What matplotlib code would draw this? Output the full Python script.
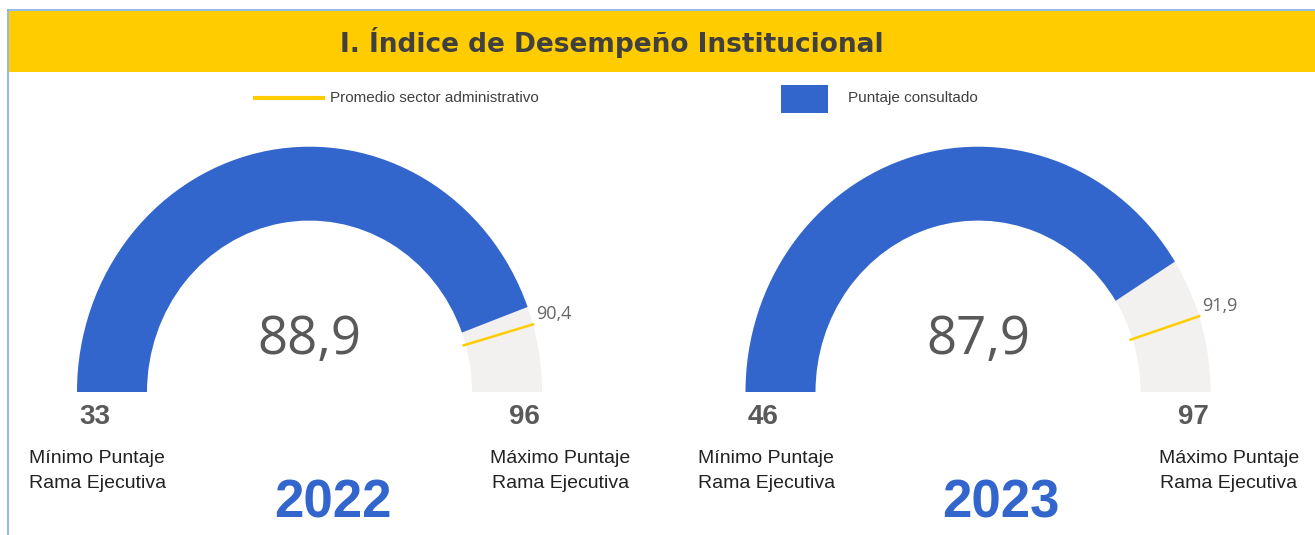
"""Gauge panel: Índice de Desempeño Institucional 2022 vs 2023."""

import math

import matplotlib

matplotlib.use("Agg")
import matplotlib.pyplot as plt
from matplotlib.patches import Wedge, Rectangle
from matplotlib.transforms import Affine2D

years = ["2022", "2023"]
scores = [88.9, 87.9]
sector_avg = [90.4, 91.9]
min_scores = [33, 46]
max_scores = [96, 97]

W, H = 1315, 535
BLUE = "#3366CC"
GREY = "#F2F1F0"
YELLOW = "#FFCC00"
TXT = "#595959"
SANS = ["Liberation Sans", "DejaVu Sans"]
ROUND = ["Open Sans", "DejaVu Sans"]
STRETCH = 1.055  # gauges are drawn slightly taller than wide


def fmt(v: float) -> str:
    return f"{v:.1f}".replace(".", ",")


def angle(v: float, lo: float, hi: float) -> float:
    # degrees, 180 = minimum (left), 0 = maximum (right)
    return 180.0 - 180.0 * (v - lo) / (hi - lo)


fig = plt.figure(figsize=(W / 100, H / 100), dpi=100)
ax = fig.add_axes([0, 0, 1, 1])
ax.set_xlim(0, W)
ax.set_ylim(0, H)
ax.axis("off")

# frame + title band
ax.add_patch(Rectangle((9, H - 72), W - 9, 61, color=YELLOW, lw=0))
ax.plot([8.5, 8.5], [0, H - 10], color="#7FAEE0", lw=1.2)
ax.plot([8.5, W], [H - 10, H - 10], color="#7FAEE0", lw=1.2)
ax.text(612, H - 42, "I. Índice de Desempeño Institucional", ha="center", va="center",
        fontsize=19, fontweight="bold", color="#404040", family="DejaVu Sans")

# legend
ax.plot([253, 325], [H - 98, H - 98], color=YELLOW, lw=3, solid_capstyle="butt")
ax.text(330, H - 98, "Promedio sector administrativo", ha="left", va="center",
        fontsize=11, color="#404040", family=SANS)
ax.add_patch(Rectangle((781, H - 113), 47, 28, color=BLUE, lw=0))
ax.text(848, H - 98, "Puntaje consultado", ha="left", va="center",
        fontsize=11, color="#404040", family=SANS)

centers = [309.5, 978]
r_out, r_in = 232.5, 162.5
cy = H - 392
for cx, year, val, avg, lo, hi in zip(centers, years, scores, sector_avg, min_scores, max_scores):
    tr = Affine2D().scale(1, STRETCH).translate(cx, cy) + ax.transData
    ax.add_patch(Wedge((0, 0), r_out, 0, 180, width=r_out - r_in, color=GREY, lw=0,
                       transform=tr))
    ax.add_patch(Wedge((0, 0), r_out, angle(val, lo, hi), 180, width=r_out - r_in,
                       color=BLUE, lw=0, transform=tr))
    a_avg = math.radians(angle(avg, lo, hi))
    c, s = math.cos(a_avg), math.sin(a_avg)
    ax.plot([(r_in - 2) * c, r_out * c], [(r_in - 2) * s, r_out * s],
            color=YELLOW, lw=1.8, transform=tr)
    ax.text(cx + 236 * c, cy + 240 * STRETCH * s - 1, fmt(avg), ha="left", va="bottom",
            fontsize=13, color="#666666", family=ROUND)
    ax.text(cx, cy + 52, fmt(val), ha="center", va="center", fontsize=38, color=TXT,
            family=ROUND)
    ax.text(cx - 215, cy - 25, str(lo), ha="center", va="center", fontsize=20,
            fontweight="bold", color=TXT, family=SANS)
    ax.text(cx + 215, cy - 25, str(hi), ha="center", va="center", fontsize=20,
            fontweight="bold", color=TXT, family=SANS)
    ax.text(cx - 280, cy - 79, "Mínimo Puntaje\nRama Ejecutiva", ha="left", va="center",
            fontsize=14, color="#222222", family=SANS, linespacing=1.6)
    ax.text(cx + 251, cy - 79, "Máximo Puntaje\nRama Ejecutiva", ha="center", va="center",
            fontsize=14, color="#222222", family=SANS, linespacing=1.6)
    ax.text(cx + 23, cy - 111, year, ha="center", va="center", fontsize=38,
            fontweight="bold", color=BLUE, family=SANS)

fig.savefig("out.png", dpi=100)
